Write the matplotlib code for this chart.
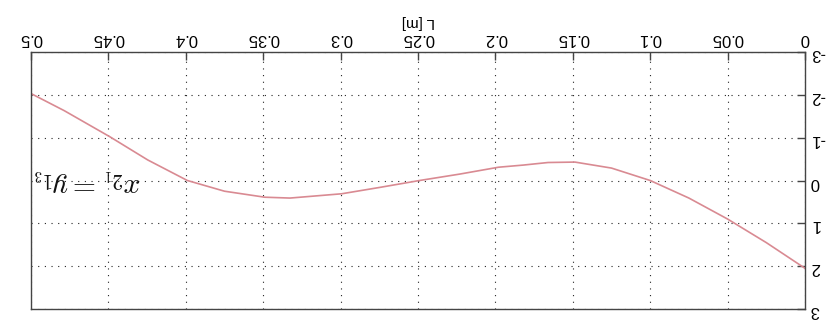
import matplotlib
matplotlib.use("Agg")
import matplotlib.pyplot as plt

# Data (chart is shown rotated by 180 degrees in the reference)
x_pos = [0.0, 0.025, 0.05, 0.075, 0.1, 0.125, 0.1486, 0.166, 0.182, 0.198, 0.223,
         0.249, 0.2745, 0.2993, 0.3327, 0.349, 0.375, 0.399, 0.4246, 0.449, 0.4785, 0.5]
values = [2.05, 1.45, 0.9, 0.41, 0.0, -0.29, -0.43, -0.42, -0.36, -0.31, -0.15,
          0.0, 0.16, 0.31, 0.41, 0.39, 0.25, 0.0, -0.48, -1.02, -1.63, -2.03]
x_ticks = [0, 0.05, 0.1, 0.15, 0.2, 0.25, 0.3, 0.35, 0.4, 0.45, 0.5]
x_tick_labels = ["0", "0.05", "0.1", "0.15", "0.2", "0.25", "0.3", "0.35", "0.4", "0.45", "0.5"]
y_ticks = [-3, -2, -1, 0, 1, 2, 3]
y_tick_labels = ["-3", "-2", "-1", "0", "1", "2", "3"]
x_label = "L [m]"
annotation = r"$x_{2_1} = y_{1_3}$"

plt.rcParams["font.family"] = ["Liberation Sans", "DejaVu Sans"]
plt.rcParams["mathtext.fontset"] = "cm"

fig = plt.figure(figsize=(8.35, 3.22), dpi=100)
ax = fig.add_axes([31 / 835, 1 - 309 / 322, (805 - 31) / 835, (309 - 52) / 322])

ax.plot(x_pos, values, color="#d98a92", lw=1.2)

ax.set_xlim(0.5, 0)
ax.set_ylim(3, -3)
ax.set_xticks(x_ticks)
ax.set_xticklabels(x_tick_labels, rotation=180)
ax.set_yticks(y_ticks)
ax.set_yticklabels(y_tick_labels, rotation=180)

ax.xaxis.tick_top()
ax.xaxis.set_label_position("top")
ax.yaxis.tick_right()
ax.tick_params(axis="both", direction="in", length=6, width=1, color="#444444",
               labelsize=12, labelcolor="#000000", pad=4)
ax.set_xlabel(x_label, rotation=180, fontsize=11, labelpad=4)

ax.grid(True, color="#222222", linestyle=(0, (1, 5)), linewidth=0.8)
for s in ax.spines.values():
    s.set_color("#444444")
    s.set_linewidth(1.0)

ax.text(0.429, 0.02, annotation, rotation=180, fontsize=21.5, ha="right", va="center",
        color="#111111")

fig.savefig("out.png", dpi=100)
